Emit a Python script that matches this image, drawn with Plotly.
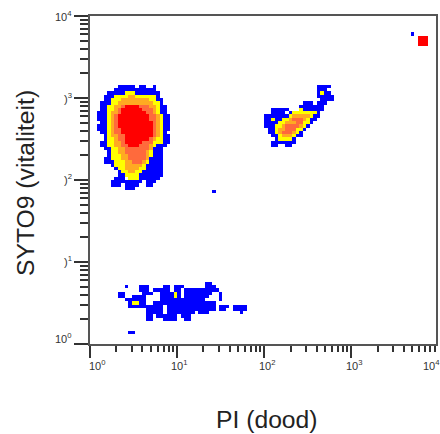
import numpy as np
import plotly.graph_objects as go

# Density level per histogram bin (25 bins per decade on both axes).
LEVELS = ["#0000ff", "#ffff00", "#ffaa22", "#ff6a3c", "#ff0000"]

MAIN_OUTER = {21:[(8,12),(14,15),(18,18)],22:[(7,18)],23:[(5,19)],24:[(4,19)],25:[(4,20)],26:[(3,20)],27:[(3,21)],28:[(3,21)],
 29:[(2,21)],30:[(2,22)],31:[(2,22)],32:[(3,22)],33:[(2,22)],34:[(2,22)],35:[(3,21)],36:[(4,22)],37:[(4,22)],38:[(3,22)],
 39:[(3,21)],40:[(4,20)],41:[(5,20)],42:[(5,20)],43:[(4,20)],44:[(4,20)],45:[(6,20)],46:[(7,20)],47:[(8,20)],48:[(8,20)],
 49:[(7,9),(12,19)],50:[(6,11),(12,14),(16,18)],51:[(6,8),(10,13),(16,17)],52:[(10,12)]}
MAIN_YELLOW = {23:(10,12),24:(7,18),25:(6,18),26:(6,19),27:(5,19),28:(5,19),29:(5,19),30:(5,20),31:(5,20),32:(5,20),33:(5,20),
 34:(5,20),35:(5,20),36:(5,20),37:(5,20),38:(5,20),39:(5,18),40:(6,17),41:(6,17),42:(6,17),43:(6,16),44:(7,16),45:(7,15),
 46:(8,15),47:(9,14),48:(10,13),49:(11,13)}
MAIN_ORANGE = {24:(11,12),25:(9,16),26:(8,17),27:(7,18),28:(7,18),29:(6,18),30:(6,19),31:(6,19),32:(6,19),33:(6,19),34:(6,19),
 35:(6,19),36:(6,19),37:(7,18),38:(7,17),39:(7,17),40:(8,17),41:(8,16),42:(9,16),43:(9,16),44:(10,15),45:(10,14),46:(10,13),47:(11,12)}
MAIN_SALMON = {27:(9,16),28:(8,17),29:(8,17),30:(7,18),31:(7,18),32:(7,18),33:(7,18),34:(7,18),35:(7,18),36:(8,18),37:(8,17),
 38:(9,17),39:(9,16),40:(10,16),41:(10,15),42:(11,15),43:(11,15),44:(12,14)}
MAIN_RED = {27:(10,13),28:(9,14),29:(9,15),30:(8,16),31:(8,16),32:(8,17),33:(8,17),34:(9,17),35:(9,17),36:(10,17),37:(10,16),38:(10,14),39:(11,13)}

SIDE_OUTER = {21:[(65,68)],22:[(65,67)],23:[(65,68)],24:[(65,69)],25:[(66,69)],26:[(61,63),(65,67)],27:[(60,66)],
 28:[(52,56),(60,66)],29:[(52,55),(57,65)],30:[(50,65)],31:[(50,64)],32:[(50,63)],33:[(50,62)],34:[(51,61)],35:[(51,60)],
 36:[(52,60)],37:[(53,58)],38:[(52,58)],39:[(52,53),(56,57)]}
SIDE_YELLOW = {23:(66,66),28:(60,60),29:(58,64),30:(57,63),31:(55,62),32:(54,62),33:(53,61),34:(53,60),35:(53,59),36:(54,58),37:(54,57)}
SIDE_YELLOW_EXTRA = {31:(52,52)}
SIDE_ORANGE = {30:(58,62),31:(57,61),32:(56,60),33:(55,60),34:(54,58),35:(54,58),36:(55,57)}
SIDE_SALMON = {31:(58,60),32:(59,60),33:(56,59),34:(56,58),35:(55,57)}

LOW_OUTER = {81:[(33,34)],82:[(10,10),(14,16),(21,22),(24,26),(33,35)],83:[(14,16),(18,22),(24,25),(27,36)],
 84:[(8,9),(15,17),(20,25),(27,34),(37,37)],85:[(8,9),(12,15),(20,25),(27,33),(37,37)],
 86:[(10,15),(20,26),(27,32),(37,37)],87:[(11,15),(18,35)],88:[(11,20),(22,35),(37,39),(41,44)],
 89:[(16,20),(22,35),(37,38),(41,44)],90:[(16,20),(22,29),(31,33),(43,43)],
 91:[(16,17),(19,24),(26,28)],92:[(16,17),(21,24),(27,28)]}
LOW_YELLOW = {84:(24,24),85:(24,24),87:(12,13)}
STRAY_BLUE = {96:[(11,12)],53:[(35,35)],5:[(92,92)]}
TOP_RED = {6:(94,96),7:(94,96),8:(94,96)}

X_TICKS = [1, 10, 100, 1000, 10000]
Y_TICKS = [1, 10, 100, 1000, 10000]
X_TICK_LABELS = ["10<sup>0</sup>", "10<sup>1</sup>", "10<sup>2</sup>", "10<sup>3</sup>", "10<sup>4</sup>"]
Y_TICK_LABELS = ["10<sup>0</sup>", ")<sup>1</sup>", ")<sup>2</sup>", ")<sup>3</sup>", "10<sup>4</sup>"]
X_LABEL_SHIFT = [7, 2, 3, 3, -4.5]
Y_LABEL_SHIFT = [6.5, 1, 1, 0, 0]
X_TITLE = "PI (dood)"
Y_TITLE = "SYTO9 (vitaliteit)"
X_MAX_LOG = 3.97

N = 100
z = np.full((N, N), np.nan)
for table in (MAIN_OUTER, SIDE_OUTER, LOW_OUTER, STRAY_BLUE):
    for r, spans in table.items():
        for a, b in spans:
            z[r, a:b + 1] = 0
for level, tables in ((1, (MAIN_YELLOW, SIDE_YELLOW, SIDE_YELLOW_EXTRA, LOW_YELLOW)), (2, (MAIN_ORANGE, SIDE_ORANGE)),
                      (3, (MAIN_SALMON, SIDE_SALMON)), (4, (MAIN_RED, TOP_RED))):
    for table in tables:
        for r, (a, b) in table.items():
            z[r, a:b + 1] = level

x_edges = 10 ** (np.arange(N + 1) / 25)
y_edges = 10 ** (4 - np.arange(N + 1) / 25)
colorscale = []
for i, c in enumerate(LEVELS):
    colorscale += [[i / 5, c], [(i + 1) / 5, c]]

fig = go.Figure(go.Heatmap(x=x_edges, y=y_edges, z=z, zmin=-0.5, zmax=4.5, colorscale=colorscale,
                           showscale=False, hoverongaps=False))

minor = [m * 10 ** d for d in range(4) for m in range(2, 10)]
family = "Liberation Sans, Arial, sans-serif"
def axis(rng, major_len, minor_len):
    return dict(type="log", range=rng, showgrid=False, zeroline=False, showline=True, mirror=True,
                linecolor="#555555", linewidth=2, ticks="outside", ticklen=major_len, tickwidth=1.5, tickcolor="#333333",
                tickmode="array", showticklabels=False,
                minor=dict(tickmode="array", tickvals=minor, ticks="outside", ticklen=minor_len, tickwidth=1.5,
                           tickcolor="#333333", showgrid=False))
fig.update_xaxes(tickvals=X_TICKS, **axis([0, X_MAX_LOG], 12, 6))
fig.update_yaxes(tickvals=Y_TICKS, **axis([0, 4], 14, 8))

label_font = dict(size=11, family=family, color="#333333")
annotations = []
for tick, text, shift in zip(X_TICKS, X_TICK_LABELS, X_LABEL_SHIFT):
    annotations.append(dict(text=text, x=min(np.log10(tick), X_MAX_LOG), y=0, xref="x", yref="paper", xshift=shift,
                            yshift=-20.5, showarrow=False, xanchor="center", yanchor="middle", font=label_font))
for tick, text, shift in zip(Y_TICKS, Y_TICK_LABELS, Y_LABEL_SHIFT):
    annotations.append(dict(text=text, x=0, y=np.log10(tick), xref="paper", yref="y", xshift=-16, yshift=shift,
                            showarrow=False, xanchor="right", yanchor="middle", font=label_font))
title_font = dict(size=24.7, family=family, color="#222222")
annotations.append(dict(text=X_TITLE, x=0, y=0, xref="paper", yref="paper", xshift=176.5, yshift=-75, showarrow=False,
                        xanchor="center", yanchor="middle", font=title_font))
annotations.append(dict(text=Y_TITLE, x=0, y=0, xref="paper", yref="paper", xshift=-65, yshift=161, showarrow=False,
                        textangle=-90, xanchor="center", yanchor="middle", font=title_font))

fig.update_layout(
    width=440, height=434, autosize=False, plot_bgcolor="white", paper_bgcolor="white",
    margin=dict(l=90, r=2, t=15.6, b=90), annotations=annotations,
)
fig.write_html("out.html", config=dict(displayModeBar=False), post_script="document.body.style.margin='0';")
